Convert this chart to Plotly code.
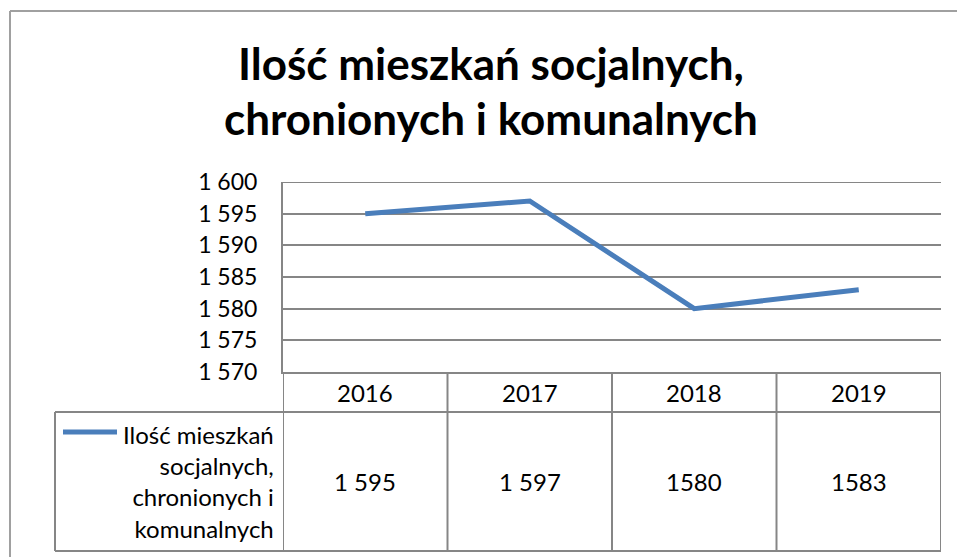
import plotly.graph_objects as go

# ---- data ----
title_lines = ["Ilość mieszkań socjalnych,", "chronionych i komunalnych"]
series_name = "Ilość mieszkań<br>socjalnych,<br>chronionych i<br>komunalnych"
years = ["2016", "2017", "2018", "2019"]
values = [1595, 1597, 1580, 1583]
value_labels = ["1 595", "1 597", "1580", "1583"]
y_ticks = [1570, 1575, 1580, 1585, 1590, 1595, 1600]

W, H = 957, 557
PL, PR, PT, PB = 283, 941, 182, 372  # plot area pixel box

def px_x(px):
    return (px - PL) / (PR - PL)

def px_y(py):
    return (PB - py) / (PB - PT)

FONT = "Lato, Carlito, Calibri, sans-serif"
GRID = "#868686"
BLUE = "#4a7ebb"

xs = list(range(len(years)))

fig = go.Figure()
fig.add_trace(go.Scatter(
    x=xs, y=values, mode="lines",
    line=dict(color=BLUE, width=5),
    showlegend=False, hoverinfo="skip", cliponaxis=False,
))

shapes = []
# outer chart border (left & top)
shapes.append(dict(type="line", xref="paper", yref="paper",
                   x0=px_x(10), x1=px_x(10), y0=px_y(11), y1=px_y(560),
                   line=dict(color="#a0a0a0", width=2)))
shapes.append(dict(type="line", xref="paper", yref="paper",
                   x0=px_x(10), x1=px_x(958), y0=px_y(11), y1=px_y(11),
                   line=dict(color="#a0a0a0", width=2)))
# top gridline (plotly omits the gridline at the range edge)
shapes.append(dict(type="line", xref="paper", yref="y",
                   x0=0, x1=1, y0=max(y_ticks), y1=max(y_ticks),
                   line=dict(color=GRID, width=2), layer="below"))

# data table lines
row_top, row_mid, row_bot = 372, 412, 551
for i in range(len(years) + 1):
    xb = i - 0.5
    shapes.append(dict(type="line", xref="x", yref="paper",
                       x0=xb, x1=xb, y0=px_y(row_top), y1=px_y(row_bot),
                       line=dict(color=GRID, width=2)))
shapes.append(dict(type="line", xref="paper", yref="paper",
                   x0=px_x(55), x1=px_x(55), y0=px_y(row_mid), y1=px_y(row_bot),
                   line=dict(color=GRID, width=2)))
for yy in (row_mid, row_bot):
    shapes.append(dict(type="line", xref="paper", yref="paper",
                       x0=px_x(55), x1=1, y0=px_y(yy), y1=px_y(yy),
                       line=dict(color=GRID, width=2)))
# legend swatch
shapes.append(dict(type="line", xref="paper", yref="paper",
                   x0=px_x(63), x1=px_x(117), y0=px_y(432), y1=px_y(432),
                   line=dict(color=BLUE, width=5)))

annotations = []
# title lines
for txt, cy in zip(title_lines, (63, 118)):
    annotations.append(dict(x=px_x(491), y=px_y(cy), xref="paper", yref="paper",
                            text="<b>%s</b>" % txt, showarrow=False,
                            xanchor="center", yanchor="middle",
                            font=dict(family=FONT, size=44, color="#000")))
# header row (years)
for i, yr in enumerate(years):
    annotations.append(dict(x=i, y=px_y(392), xref="x", yref="paper",
                            text=yr, showarrow=False,
                            font=dict(family=FONT, size=24, color="#000"),
                            xanchor="center", yanchor="middle"))
# value row
for i, lab in enumerate(value_labels):
    annotations.append(dict(x=i, y=px_y(481), xref="x", yref="paper",
                            text=lab, showarrow=False,
                            font=dict(family=FONT, size=24, color="#000"),
                            xanchor="center", yanchor="middle"))
annotations.append(dict(x=px_x(276), y=px_y(481), xref="paper", yref="paper",
                        text=series_name, showarrow=False, align="right",
                        xanchor="right", yanchor="middle",
                        font=dict(family=FONT, size=24, color="#000")))

fig.update_layout(
    width=W, height=H,
    margin=dict(l=PL, r=W - PR, t=PT, b=H - PB, pad=0),
    paper_bgcolor="white", plot_bgcolor="white",
    separators=", ",
    shapes=shapes, annotations=annotations, showlegend=False,
)
fig.update_xaxes(range=[-0.5, 3.5], tickvals=xs, showticklabels=False,
                 showgrid=False, zeroline=False, ticks="",
                 showline=True, linecolor=GRID, linewidth=2)
fig.update_yaxes(range=[1570, 1600], tickvals=y_ticks, tickformat=",d",
                 showgrid=True, gridcolor=GRID, gridwidth=2, zeroline=False,
                 showline=True, linecolor=GRID, linewidth=2,
                 ticks="outside", ticklen=19, tickcolor="rgba(0,0,0,0)",
                 tickfont=dict(family=FONT, size=23, color="#000"))

fig.write_html("out.html", config={"displayModeBar": False},
               post_script="document.body.style.margin='0';")
